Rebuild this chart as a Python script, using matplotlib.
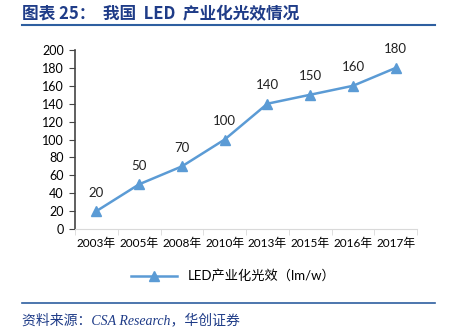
import matplotlib
matplotlib.use("Agg")
import matplotlib.pyplot as plt
from matplotlib.lines import Line2D

years = ["2003年", "2005年", "2008年", "2010年", "2013年", "2015年", "2016年", "2017年"]
efficacy = [20, 50, 70, 100, 140, 150, 160, 180]
series_name = "LED产业化光效（lm/w）"
y_ticks = [0, 20, 40, 60, 80, 100, 120, 140, 160, 180, 200]

plt.rcParams['font.family'] = ['Lato', 'Noto Sans CJK SC', 'DejaVu Sans']

LINE_BLUE = "#5B9BD5"
NAVY = "#1F3C88"

fig = plt.figure(figsize=(4.49, 3.31), dpi=100)
ax = fig.add_axes([0.167, 0.308, 0.762, 0.541])

x = list(range(len(years)))
ax.plot(x, efficacy, color=LINE_BLUE, linewidth=1.8, marker="^", markersize=6.5)
for xi, v in zip(x, efficacy):
    ax.annotate(str(v), (xi, v), xytext=(0, 9), textcoords="offset points",
                ha="center", va="bottom", fontsize=9.5, color="#222222")

ax.set_xlim(-0.5, len(years) - 0.5)
ax.set_ylim(0, 200)
ax.set_yticks(y_ticks)
ax.set_xticks(x)
ax.set_xticklabels(years, fontsize=8.5)
ax.tick_params(axis="y", labelsize=9, length=4, color="#444444", direction="out", pad=4)
ax.tick_params(axis="x", length=0, pad=6)
# category separators on the x axis
ax.set_xticks([i + 0.5 for i in range(-1, len(years))], minor=True)
ax.tick_params(axis="x", which="minor", length=4, color="#D9D9D9", direction="out")

for side in ["top", "right"]:
    ax.spines[side].set_visible(False)
ax.spines["left"].set_color("#444444")
ax.spines["left"].set_linewidth(1.2)
ax.spines["bottom"].set_color("#D9D9D9")

handle = Line2D([0], [0], color=LINE_BLUE, linewidth=1.8, marker="^", markersize=6.5)
fig.legend([handle], [series_name], loc="center", bbox_to_anchor=(0.52, 0.167),
           frameon=False, fontsize=9.5, handlelength=3.5)

# title and decorations
fig.text(0.05, 0.958, "图表 25：  我国  LED  产业化光效情况", fontsize=12, fontweight="bold",
         color=NAVY, ha="left", va="center",
         family=["Noto Sans CJK SC", "DejaVu Sans"])
fig.add_artist(Line2D([0.049, 0.969], [0.925, 0.925], color="#2E5FA0", linewidth=1.5))
fig.add_artist(Line2D([0.049, 0.969], [0.085, 0.085], color="#2E5FA0", linewidth=1.2))
fig.text(0.05, 0.033, "资料来源：CSA Research，华创证券", fontsize=10, style="italic",
         color=NAVY, ha="left", va="center",
         family=["Liberation Serif", "Noto Sans CJK SC"])

fig.savefig("out.png", dpi=100)
